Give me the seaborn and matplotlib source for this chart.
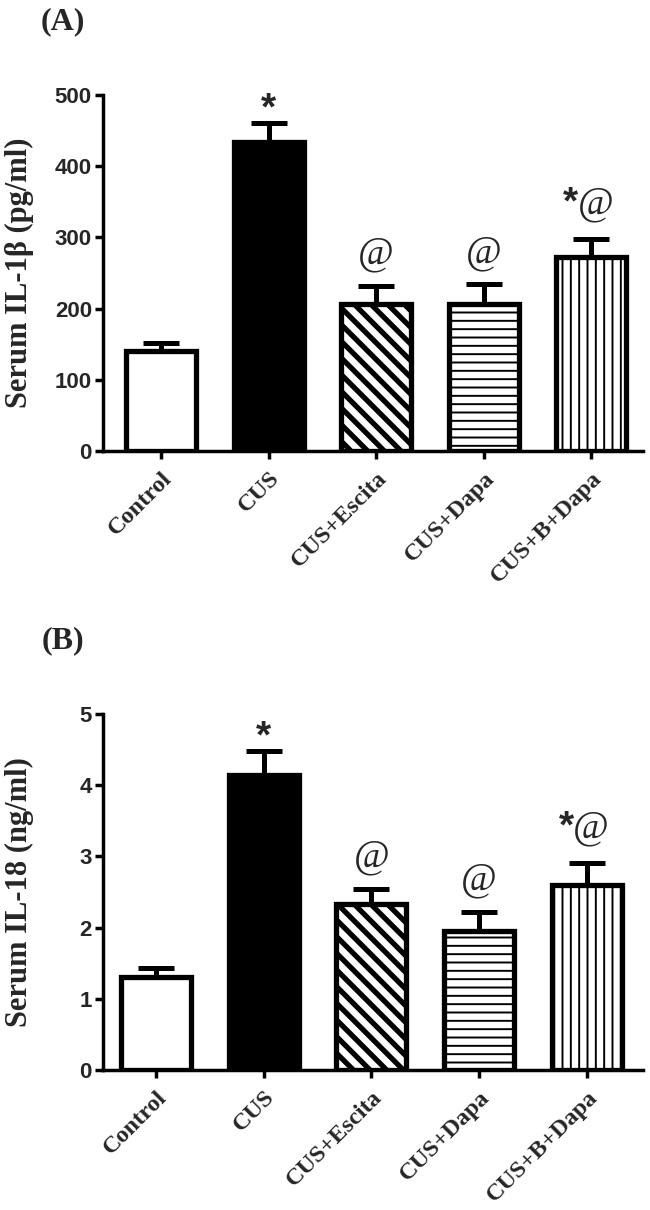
import numpy as np
import pandas as pd
import matplotlib
matplotlib.use("Agg")
import matplotlib.pyplot as plt
import seaborn as sns

# ---------------- data ----------------
groups = ["Control", "CUS", "CUS+Escita", "CUS+Dapa", "CUS+B+Dapa"]
il1b_mean = [140, 434, 206, 207, 272]
il1b_sem = [12, 27, 26, 27, 26]
il18_mean = [1.31, 4.14, 2.33, 1.95, 2.60]
il18_sem = [0.12, 0.34, 0.21, 0.27, 0.31]
marks = ["", "*", "@", "@", "*@"]
il1b_ticks = [0, 100, 200, 300, 400, 500]
il18_ticks = [0, 1, 2, 3, 4, 5]

# ---------------- style ----------------
sns.set_style("ticks")
plt.rcParams["font.family"] = ["Liberation Sans", "DejaVu Sans"]
plt.rcParams["hatch.linewidth"] = 1.3

face_colors = ["white", "black", "white", "white", "white"]
hatches = [None, None, "\\\\", "--", "||"]
hatch_lw = [1.3, 1.3, 3.8, 1.4, 1.4]

fig = plt.figure(figsize=(6.5, 12.1), dpi=100)
axA = fig.add_axes([103 / 650, 1 - 451 / 1210, 540 / 650, 356 / 1210])
axB = fig.add_axes([103 / 650, 1 - 1070 / 1210, 540 / 650, 356 / 1210])


def draw_panel(ax, means, sems, ticks, ylabel, xlim):
    df = pd.DataFrame({"group": groups, "value": means})
    sns.barplot(data=df, x="group", y="value", hue="group", palette=face_colors,
                order=groups, hue_order=groups, legend=False, saturation=1,
                width=0.65, edgecolor="black", linewidth=3.8, ax=ax, zorder=3)
    for p, h, hl in zip(ax.patches, hatches, hatch_lw):
        if h:
            p.set_hatch(h)
        if hasattr(p, "set_hatch_linewidth"):
            p.set_hatch_linewidth(hl)
        p.set_joinstyle("miter")
    xs = np.arange(len(groups))
    ax.errorbar(xs, means, yerr=[np.zeros(len(sems)), sems], fmt="none",
                ecolor="black", elinewidth=3.6, capsize=13.3, capthick=3.6, zorder=2)
    top = [m + s for m, s in zip(means, sems)]
    star_kw = dict(textcoords="offset points", ha="center", va="baseline",
                   fontsize=28, fontweight="bold", family="Liberation Sans")
    at_kw = dict(textcoords="offset points", ha="center", va="baseline",
                 fontsize=28, family="Liberation Serif")
    for i, mk in enumerate(marks):
        if mk == "*":
            ax.annotate("*", xy=(i, top[i]), xytext=(0, 2.5), **star_kw)
        elif mk == "@":
            ax.annotate("@", xy=(i, top[i]), xytext=(0, 16), **at_kw)
        elif mk == "*@":
            ax.annotate("@", xy=(i, top[i]), xytext=(3, 18), **at_kw)
            ax.annotate("*", xy=(i, top[i]), xytext=(-15, 18.5), **star_kw)
    ax.set_ylim(ticks[0], ticks[-1])
    ax.set_xlim(*xlim)
    ax.set_yticks(ticks)
    ax.set_yticklabels([str(t) for t in ticks], fontsize=16, fontweight="bold",
                       family="Liberation Sans")
    ax.set_xticks(xs)
    ax.set_xticklabels(groups, rotation=45, ha="right", rotation_mode="anchor",
                       fontsize=17.5, fontweight="bold", family="Liberation Serif")
    ax.set_xlabel("")
    ax.set_ylabel(ylabel, fontsize=22, fontweight="bold", family="Liberation Serif")
    ax.yaxis.set_label_coords(-0.128, 0.5)
    for s in ["top", "right"]:
        ax.spines[s].set_visible(False)
    for s in ["left", "bottom"]:
        ax.spines[s].set_linewidth(2.5)
        ax.spines[s].set_color("black")
    ax.tick_params(axis="both", direction="out", length=6, width=2.5, color="black",
                   pad=2)
    ax.tick_params(axis="x", pad=6)
    ax.set_facecolor("white")


draw_panel(axA, il1b_mean, il1b_sem, il1b_ticks, "Serum IL-1β (pg/ml)", (-0.54, 4.48))
draw_panel(axB, il18_mean, il18_sem, il18_ticks, "Serum IL-18 (ng/ml)", (-0.49, 4.52))

fig.text(63 / 650, 1 - 22 / 1210, "(A)", ha="center", va="center", fontsize=23,
         fontweight="bold", family="Liberation Serif")
fig.text(63 / 650, 1 - 641 / 1210, "(B)", ha="center", va="center", fontsize=23,
         fontweight="bold", family="Liberation Serif")

fig.savefig("out.png", dpi=100, facecolor="white")
